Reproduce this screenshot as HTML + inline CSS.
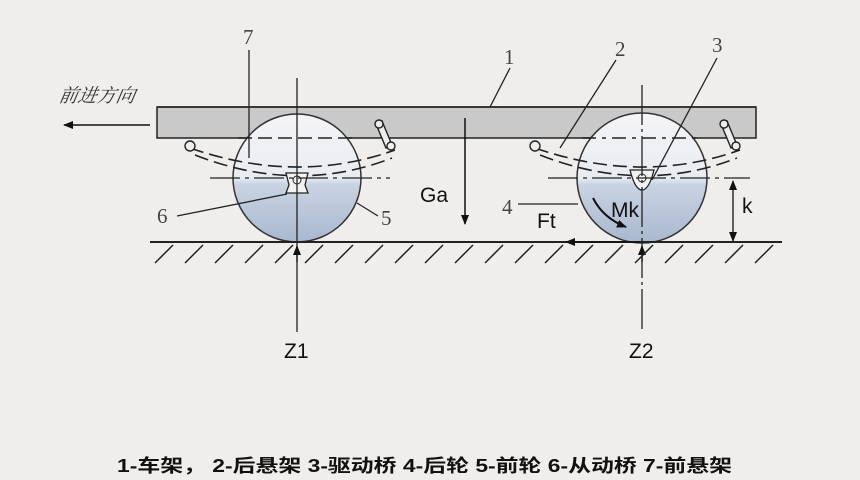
<!DOCTYPE html>
<html><head><meta charset="utf-8"><style>
html,body{margin:0;padding:0;background:#efeeed;}
svg{display:block}
</style></head><body>
<svg width="860" height="480" viewBox="0 0 860 480" xmlns="http://www.w3.org/2000/svg" font-family="Liberation Sans, sans-serif">
<defs>
<linearGradient id="wg" x1="0" y1="0" x2="0" y2="1">
<stop offset="0" stop-color="#f4f4f6"/><stop offset="0.5" stop-color="#e8ecf2"/><stop offset="0.55" stop-color="#c9d3e2"/><stop offset="1" stop-color="#a9b8cf"/>
</linearGradient>
<marker id="ah" markerWidth="10" markerHeight="8" refX="9" refY="4" orient="auto" markerUnits="userSpaceOnUse"><path d="M0,0 L10,4 L0,8 Z" fill="#111"/></marker>
</defs>
<rect width="860" height="480" fill="#efeeed"/>
<!-- frame -->
<rect x="157" y="107" width="599" height="31" fill="#c9c9c9" stroke="#222" stroke-width="1.5"/>
<!-- wheels on top -->
<circle cx="297" cy="178" r="64" fill="url(#wg)" stroke="#333" stroke-width="1.5"/>
<circle cx="642" cy="178" r="65" fill="url(#wg)" stroke="#333" stroke-width="1.5"/>
<line x1="157" y1="107" x2="756" y2="107" stroke="#222" stroke-width="1.5"/>
<!-- dashed lines through frame bottom -->
<line x1="238" y1="138" x2="356" y2="138" stroke="#222" stroke-width="1.5" stroke-dasharray="14,6"/>
<line x1="582" y1="138" x2="702" y2="138" stroke="#222" stroke-width="1.5" stroke-dasharray="14,6,4,6"/>
<!-- leaf springs -->
<g fill="none" stroke="#222" stroke-width="1.6" stroke-dasharray="14,6">
<path d="M190,148 Q297,185 395,150"/><path d="M195,155 Q297,195 392,158"/>
<path d="M535,148 Q642,185 740,150"/><path d="M540,155 Q642,195 737,158"/>
</g>
<g fill="#eee" stroke="#222" stroke-width="1.4">
<circle cx="190" cy="146" r="5"/><circle cx="535" cy="146" r="5"/>
<path d="M376,124 l6,-3 l10,24 l-6,3 z"/><circle cx="379" cy="124" r="4"/><circle cx="391" cy="146" r="4"/>
<path d="M721,124 l6,-3 l10,24 l-6,3 z"/><circle cx="724" cy="124" r="4"/><circle cx="736" cy="146" r="4"/>
</g>
<!-- axles -->
<path d="M286,173 h22 l-3,12 l3,8 h-22 l3,-8 z" fill="#f2f2f2" stroke="#222" stroke-width="1.3"/>
<circle cx="297" cy="180" r="4" fill="none" stroke="#222"/>
<path d="M630,170 h24 q-5,20 -12,20 q-7,0 -12,-20z" fill="#f2f2f2" stroke="#222" stroke-width="1.3"/>
<circle cx="642" cy="178" r="4" fill="none" stroke="#222"/>
<!-- horizontal center lines -->
<line x1="210" y1="178" x2="390" y2="178" stroke="#222" stroke-width="1.2" stroke-dasharray="30,5,4,5"/>
<line x1="548" y1="178" x2="750" y2="178" stroke="#222" stroke-width="1.2" stroke-dasharray="30,5,4,5"/>
<!-- vertical lines -->
<line x1="297" y1="78" x2="297" y2="332" stroke="#222" stroke-width="1.3"/>
<line x1="642" y1="85" x2="642" y2="332" stroke="#222" stroke-width="1.3" stroke-dasharray="40,4,3,4"/>
<line x1="297" y1="262" x2="297" y2="246" stroke="#111" stroke-width="1.3" marker-end="url(#ah)"/>
<line x1="642" y1="262" x2="642" y2="246" stroke="#111" stroke-width="1.3" marker-end="url(#ah)"/>
<!-- ground -->
<line x1="150" y1="242" x2="782" y2="242" stroke="#222" stroke-width="2"/>
<g stroke="#222" stroke-width="1.5">
<line x1="155" y1="263" x2="173" y2="245"/><line x1="185" y1="263" x2="203" y2="245"/><line x1="215" y1="263" x2="233" y2="245"/><line x1="245" y1="263" x2="263" y2="245"/><line x1="275" y1="263" x2="293" y2="245"/><line x1="305" y1="263" x2="323" y2="245"/><line x1="335" y1="263" x2="353" y2="245"/><line x1="365" y1="263" x2="383" y2="245"/><line x1="395" y1="263" x2="413" y2="245"/><line x1="425" y1="263" x2="443" y2="245"/><line x1="455" y1="263" x2="473" y2="245"/><line x1="485" y1="263" x2="503" y2="245"/><line x1="515" y1="263" x2="533" y2="245"/><line x1="545" y1="263" x2="563" y2="245"/><line x1="575" y1="263" x2="593" y2="245"/><line x1="605" y1="263" x2="623" y2="245"/><line x1="635" y1="263" x2="653" y2="245"/><line x1="665" y1="263" x2="683" y2="245"/><line x1="695" y1="263" x2="713" y2="245"/><line x1="725" y1="263" x2="743" y2="245"/><line x1="755" y1="263" x2="773" y2="245"/>
</g>
<!-- direction -->
<text x="58" y="102" font-family="Liberation Serif, Noto Serif CJK SC, serif" font-style="italic" font-size="19" fill="#333" transform="skewX(-10) translate(18,0)">前进方向</text>
<line x1="150" y1="125" x2="64" y2="125" stroke="#111" stroke-width="1.5" marker-end="url(#ah)"/>
<!-- Ga -->
<line x1="465" y1="118" x2="465" y2="224" stroke="#111" stroke-width="1.5" marker-end="url(#ah)"/>
<text x="420" y="202" font-size="21" fill="#111">Ga</text>
<!-- Ft -->
<line x1="640" y1="242" x2="566" y2="242" stroke="#111" stroke-width="1.5" marker-end="url(#ah)"/>
<text x="537" y="228" font-size="21" fill="#111">Ft</text>
<!-- Mk -->
<text x="611" y="217" font-size="21" fill="#111">Mk</text>
<path d="M593,198 Q603,218 626,227" fill="none" stroke="#111" stroke-width="2" marker-end="url(#ah)"/>
<!-- k -->
<line x1="733" y1="211" x2="733" y2="181" stroke="#111" stroke-width="1.3" marker-end="url(#ah)"/>
<line x1="733" y1="211" x2="733" y2="241" stroke="#111" stroke-width="1.3" marker-end="url(#ah)"/>
<text x="742" y="213" font-size="21" fill="#111">k</text>
<!-- Z labels -->
<text x="284" y="358" font-size="21" fill="#111">Z1</text>
<text x="629" y="358" font-size="21" fill="#111">Z2</text>
<!-- numbered leaders -->
<g font-family="Liberation Serif, serif" font-size="21" fill="#444">
<text x="504" y="64">1</text><text x="615" y="56">2</text><text x="712" y="52">3</text>
<text x="502" y="214">4</text><text x="381" y="225">5</text><text x="157" y="223">6</text><text x="243" y="44">7</text>
</g>
<g stroke="#222" stroke-width="1.3" fill="none">
<line x1="510" y1="68" x2="490" y2="107"/>
<line x1="616" y1="60" x2="560" y2="148"/>
<line x1="717" y1="58" x2="652" y2="180"/>
<line x1="518" y1="204" x2="578" y2="204"/>
<line x1="378" y1="216" x2="357" y2="203"/>
<line x1="177" y1="216" x2="287" y2="194"/>
<line x1="249" y1="50" x2="249" y2="158"/>
</g>
<!-- caption -->
<text x="117" y="472" font-family="Liberation Sans, Noto Sans CJK SC, sans-serif" font-size="18" font-weight="bold" fill="#111" textLength="615" lengthAdjust="spacingAndGlyphs">1-车架， 2-后悬架 3-驱动桥 4-后轮 5-前轮 6-从动桥 7-前悬架</text>
</svg>
</body></html>
